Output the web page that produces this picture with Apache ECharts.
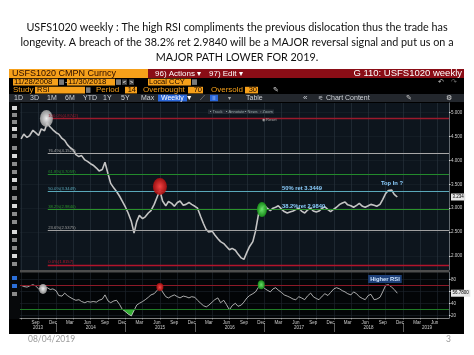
<!DOCTYPE html>
<html><head><meta charset="utf-8">
<script src="https://cdn.jsdelivr.net/npm/echarts/dist/echarts.min.js"></script>
<style>html,body{margin:0;padding:0;background:#fff}#c{width:474px;height:355px}</style>
</head><body><div id="c"></div><script>
// ---------- data ----------
const titleLines = [
  'USFS1020 weekly : The high RSI compliments the previous dislocation thus the trade has',
  'longevity. A breach of the 38.2% ret 2.9840 will be a MAJOR reversal signal and put us on a',
  'MAJOR PATH LOWER FOR 2019.'
];
// semi-monthly samples, 2013-07-01 .. 2018-12-01
const priceClose = [4.45,4.55,4.48,4.52,4.63,4.58,4.52,4.66,4.62,4.78,
  4.70,4.64,4.58,4.55,4.46,4.42,4.33,4.27,4.22,4.12,
  4.08,4.10,4.01,3.98,3.93,3.90,3.84,3.78,3.81,3.96,
  3.72,3.52,3.42,3.35,3.25,3.15,3.02,2.90,2.72,2.48,
  2.72,2.85,2.78,2.82,2.90,2.95,3.08,3.22,3.38,3.15,
  3.05,3.14,3.10,3.04,3.12,3.15,3.06,3.08,3.12,3.08,
  3.04,3.00,2.82,2.68,2.55,2.50,2.52,2.44,2.36,2.30,
  2.26,2.20,2.13,2.16,2.12,2.04,1.96,1.93,2.08,2.20,
  2.30,2.52,2.88,2.98,3.06,3.00,2.95,3.00,3.02,3.05,
  2.98,2.93,2.90,2.92,2.94,2.97,3.00,2.94,2.90,2.96,
  3.00,2.94,2.92,2.94,3.00,3.03,2.97,2.93,2.98,3.02,
  3.08,3.11,3.13,3.07,3.05,3.02,3.06,3.10,3.04,3.02,
  3.05,3.08,3.06,3.04,3.08,3.18,3.31,3.37,3.38,3.29,
  3.234];
const rsiValues = [70,68,67,69,71,69,64,66,65,66,
  63,64,61,53,52,57,53,50,47,45,
  46,43,41,43,42,43,42,45,47,54,
  44,41,44,45,38,30,26,22,19,28,
  37,40,43,46,50,54,56,61,67,59,
  51,49,52,54,51,49,52,51,49,51,
  50,45,40,36,34,37,42,46,49,41,
  45,38,29,36,40,35,37,42,49,53,
  56,59,67,70,65,62,59,64,66,62,
  58,54,52,50,47,46,51,49,46,52,
  57,51,48,46,52,56,53,58,64,66,
  64,61,59,56,54,59,56,51,48,46,
  53,55,46,47,50,59,70,71,67,63,
  56.78];
const fibPct = ['100.0%','76.4%','61.8%','50.0%','38.2%','23.6%','0.0%'];
const fibLevels = [4.8742,4.1524,3.7059,3.3449,2.9840,2.5375,1.8157];
const fibStartDate = '2013-11-18';
const priceTicks = [2.0,2.5,3.0,3.5,4.0,4.5,5.0];
const rsiGridTicks = [20,40,60,80];
const rsiLabelTicks = [20,40,80];
const rsiLevels = [70,30];
const axisStart = '2013-06-25', axisEnd = '2019-08-30';
const monthLabelDates = ['2013-09-15','2013-12-15','2014-03-15','2014-06-15','2014-09-15','2014-12-15',
  '2015-03-15','2015-06-15','2015-09-15','2015-12-15','2016-03-15','2016-06-15','2016-09-15','2016-12-15',
  '2017-03-15','2017-06-15','2017-09-15','2017-12-15','2018-03-15','2018-06-15','2018-09-15','2018-12-15',
  '2019-03-15','2019-06-15'];
const monthNames = ['Jan','Feb','Mar','Apr','May','Jun','Jul','Aug','Sep','Oct','Nov','Dec'];
const gridDates = ['2013-07-01','2013-10-01','2014-01-01','2014-04-01','2014-07-01','2014-10-01',
  '2015-01-01','2015-04-01','2015-07-01','2015-10-01','2016-01-01','2016-04-01','2016-07-01','2016-10-01',
  '2017-01-01','2017-04-01','2017-07-01','2017-10-01','2018-01-01','2018-04-01','2018-07-01','2018-10-01',
  '2019-01-01','2019-04-01','2019-07-01'];
const yearLabels = ['2013','2014','2015','2016','2017','2018','2019'];
const yearLabelDates = ['2013-09-28','2014-07-02','2015-07-02','2016-07-02','2017-07-02','2018-07-02','2019-05-06'];
const yearStartDates = ['2014-01-01','2015-01-01','2016-01-01','2017-01-01','2018-01-01','2019-01-01'];
// annotations
const priceCircleDates = ['2013-11-11','2015-07-01','2016-12-19'];
const priceCircleValues = [4.877,3.454,2.973];
const rsiCircleDates = ['2013-10-24','2015-07-01','2016-12-15'];
const rsiCircleValues = [64,67,71];
const priceNoteTexts = ['50% ret 3.3449','38.2%ret 2.9840','Top In ?'];
const priceNoteDates = ['2017-07-18','2017-07-26','2018-11-03'];
const priceNoteValues = [3.423,3.046,3.527];
const rsiNoteTexts = ['Higher RSI'];
const rsiNoteDates = ['2018-09-27'];
const rsiNoteValues = [80.5];

// ---------- helpers ----------
const ts = s => { const p = s.split('-').map(Number); return new Date(p[0], p[1]-1, p[2]).getTime(); };
const dates = [];
for (let i = 0; i < priceClose.length; i++) {
  const m = 6 + Math.floor(i / 2);
  const y = 2013 + Math.floor(m / 12);
  dates.push(y + '-' + String(m % 12 + 1).padStart(2, '0') + '-' + (i % 2 === 0 ? '01' : '15'));
}
const lastPrice = priceClose[priceClose.length - 1];
const lastRsi = rsiValues[rsiValues.length - 1];
const fibColors = ['#9c1a2c','#a8a8a8','#238a2c','#5aa9ba','#2b922b','#a0a0a0','#b3142c'];
const circleStyles = [
  ['rgba(250,250,250,0.95)','rgba(165,165,165,0.85)'],
  ['rgba(255,70,70,0.95)','rgba(170,15,15,0.9)'],
  ['rgba(110,235,110,0.95)','rgba(25,150,25,0.9)']];
const circleSizesP = [[13,17],[14,17],[10,15]];
const circleSizesR = [[8,10],[7,8],[7,9]];
const radial = c => ({type:'radial', x:0.5, y:0.5, r:0.5, colorStops:[{offset:0,color:c[0]},{offset:1,color:c[1]}]});
const FONT = '"Liberation Sans", Arial, sans-serif';

const G = [];
function rect(x, y, w, h, fill, z) { G.push({type:'rect', silent:true, z: (z === undefined ? 100 : z), shape:{x, y, width:w, height:h}, style:{fill}}); }
function text(x, y, t, fill, size, align, weight, fam) {
  G.push({type:'text', silent:true, z:101, x, y, style:{text:t, fill, font:(weight||'normal') + ' ' + size + 'px ' + (fam || FONT),
    align:align||'left', textAlign:align||'left', verticalAlign:'middle', textVerticalAlign:'middle'}});
}
rect(9, 102, 455, 232, '#000', -10);
rect(9, 102, 11, 217, '#07090b', -9);
[106,113,120,127,134,146,154,162,170,178,186,196,204,212,220,230,238,246,254,262,276,284,292].forEach((yy, k) => {
  rect(12, yy, 5, 4, (k === 20 || k === 21) ? '#2c6fd8' : (k % 3 === 0 ? '#d8d8d8' : '#8a8a8a'), 50);
});
rect(9, 69, 139, 9, '#f6a01a'); text(12, 73.8, 'USFS1020 CMPN Curncy', '#2a0c00', 9);
rect(148, 69, 316, 9, '#8a0d16');
text(155, 73.8, '96) Actions ▾', '#fff', 8); text(209, 73.8, '97) Edit ▾', '#fff', 8);
text(462, 73.8, 'G 110: USFS1020 weekly', '#fff', 9.5, 'right');
rect(9, 78, 455, 16, '#000');
rect(13, 78.8, 45, 6.6, '#f6a01a'); text(14, 82.2, '11/28/2008', '#1a0800', 7.8);
rect(59, 79.3, 5, 5.6, '#7a7a7a'); text(65, 82, '-', '#ddd', 7);
rect(67, 78.8, 48, 6.6, '#f6a01a'); text(68, 82.2, '11/30/2018', '#1a0800', 7.8);
rect(116, 79.3, 5, 5.6, '#7a7a7a');
rect(122, 79.3, 5, 5.6, '#444'); text(124.5, 82, '<', '#fff', 6, 'center');
rect(129, 79.3, 5, 5.6, '#444'); text(131.5, 82, '>', '#fff', 6, 'center');
rect(148, 78.8, 43, 6.6, '#f6a01a'); text(149, 82.2, 'Local CCY', '#1a0800', 7.5);
rect(192, 79.3, 5, 5.6, '#7a7a7a');
text(438, 82, '↶', '#ccc', 7); text(451, 82, '↷', '#777', 7);
text(13, 90, 'Study', '#f6a01a', 8);
rect(35, 86.8, 50, 6.6, '#f6a01a'); text(37, 90.2, 'RSI', '#1a0800', 7.5);
rect(86, 87.3, 4.5, 5.6, '#7a7a7a');
text(96, 90, 'Period', '#f6a01a', 8);
rect(125, 86.8, 12, 6.6, '#f6a01a'); text(136, 90.2, '14', '#1a0800', 7.5, 'right');
text(143, 90, 'Overbought', '#f6a01a', 8);
rect(188, 86.8, 15, 6.6, '#f6a01a'); text(202, 90.2, '70', '#1a0800', 7.5, 'right');
text(211, 90, 'Oversold', '#f6a01a', 8);
rect(245, 86.8, 13, 6.6, '#f6a01a'); text(257, 90.2, '30', '#1a0800', 7.5, 'right');
text(273, 90, '✎', '#ddd', 7);
rect(9, 94, 455, 8, '#23272d');
[['1D',14],['3D',30],['1M',47],['6M',65],['YTD',83],['1Y',103],['5Y',121],['Max',141]].forEach(a => text(a[1], 98, a[0], '#cfd3d8', 7));
rect(158, 94.6, 29, 6.8, '#2a66d9'); text(161, 98, 'Weekly ▼', '#fff', 7);
text(200, 98, '⟋', '#aaa', 7);
rect(210, 94.8, 8, 6.4, '#2a66d9'); text(214, 98, '⁞⁞', '#fff', 6, 'center');
text(228, 98, '▾', '#aaa', 6);
text(246, 98, 'Table', '#cfd3d8', 7);
text(303, 98, '«', '#cfd3d8', 8);
text(318, 98, '⚟', '#cfd3d8', 6);
text(326, 98, 'Chart Content', '#cfd3d8', 7);
text(406, 98, '✎', '#ccc', 7);
text(446, 98, '⚙', '#ddd', 7);
rect(208, 109.6, 66, 4.4, 'rgba(38,44,54,0.95)', 60);
text(210, 111.8, '▪ Track', '#9aa', 4); text(226, 111.8, '▪ Annotate', '#9aa', 4);
text(245, 111.8, '▪ News', '#9aa', 4); text(260, 111.8, '▫ Zoom', '#9aa', 4);
text(262, 120, '◉ Reset', '#aaa', 4);
rect(20, 270, 429, 2.5, '#4d4d4d', 5);
text(28, 339, '08/04/2019', '#9a9a9a', 8.5, 'left', 'normal', 'Lato, sans-serif');
text(446, 339, '3', '#9a9a9a', 8.5, 'left', 'normal', 'Lato, sans-serif');

const priceData = dates.map((d, i) => [ts(d), priceClose[i]]);
const rsiData = dates.map((d, i) => [ts(d), rsiValues[i]]);
const oversoldData = dates.map((d, i) => {
  const v = rsiValues[i];
  const near = v < 30 || (rsiValues[i-1] !== undefined && rsiValues[i-1] < 30) || (rsiValues[i+1] !== undefined && rsiValues[i+1] < 30);
  return [ts(d), near ? Math.min(v, 30) : null];
});
const nearestIdx = (arr, v) => { let b = 0, bd = Infinity; arr.forEach((a, k) => { const dd = Math.abs(a - v); if (dd < bd) { bd = dd; b = k; } }); return b; };
const yearLabelTs = yearLabelDates.map(ts);
const xMin = ts(axisStart), xMax = ts(axisEnd);

const option = {
  animation: false,
  backgroundColor: '#fff',
  title: {
    text: titleLines.join('\n'), left: 'center', top: 20.5, padding: 0,
    textStyle: {fontFamily: 'Lato, sans-serif', fontSize: 10.8, fontWeight: 'normal', color: '#111', lineHeight: 15}
  },
  graphic: G,
  grid: [
    {left: 20, right: 25, top: 103, height: 167, show: true, backgroundColor: '#0d151d', borderWidth: 0},
    {left: 20, right: 25, top: 272, height: 46, show: true, backgroundColor: '#030507', borderWidth: 0}
  ],
  xAxis: [
    {gridIndex: 0, type: 'value', min: xMin, max: xMax, axisLine: {show: false},
     axisTick: {show: false, customValues: gridDates.map(ts)}, axisLabel: {show: false, customValues: gridDates.map(ts)},
     splitLine: {show: true, lineStyle: {color: '#26313b', width: 0.7}}},
    {gridIndex: 1, type: 'value', min: xMin, max: xMax,
     axisLine: {show: true, onZero: false, lineStyle: {color: '#b8b8b8', width: 0.7}},
     axisTick: {show: true, customValues: gridDates.map(ts), length: 1.5, lineStyle: {color: '#b8b8b8', width: 0.6}},
     axisLabel: {show: true, customValues: monthLabelDates.map(ts), formatter: v => monthNames[new Date(v).getMonth()],
       fontSize: 4.5, color: '#cfcfcf', margin: 1.8, fontFamily: FONT},
     splitLine: {show: true, lineStyle: {color: '#1c232a', width: 0.7}}},
    {gridIndex: 1, type: 'value', min: xMin, max: xMax, position: 'bottom', offset: 5,
     axisLine: {show: false, onZero: false},
     axisTick: {show: true, customValues: yearStartDates.map(ts), length: 9, lineStyle: {color: '#9a9a9a', width: 0.6}},
     axisLabel: {show: true, customValues: yearLabelTs, formatter: v => yearLabels[nearestIdx(yearLabelTs, v)],
       fontSize: 4.5, color: '#cfcfcf', margin: 2.5, fontFamily: FONT},
     splitLine: {show: false}}
  ],
  yAxis: [
    {gridIndex: 0, type: 'value', position: 'right', min: 1.7071, max: 5.2008,
     axisLine: {show: true, onZero: false, lineStyle: {color: '#8d979f', width: 0.7}},
     axisTick: {show: true, customValues: priceTicks, length: 1.5, lineStyle: {color: '#ddd'}},
     axisLabel: {show: true, customValues: priceTicks.concat([lastPrice]), margin: 2, fontSize: 4.5, color: '#cfcfcf', fontFamily: FONT,
       formatter: v => Math.abs(v - lastPrice) < 1e-9 ? '{cur|' + v.toFixed(3) + '}' : v.toFixed(3),
       rich: {cur: {backgroundColor: '#e6e6e6', color: '#000', fontSize: 4.5, padding: [1, 1.5], fontFamily: FONT}}},
     splitLine: {show: true, lineStyle: {color: '#18212a', width: 0.7}}},
    {gridIndex: 1, type: 'value', position: 'right', min: 15.5, max: 92.17,
     axisLine: {show: true, onZero: false, lineStyle: {color: '#8d979f', width: 0.7}},
     axisTick: {show: true, customValues: rsiGridTicks, length: 1.5, lineStyle: {color: '#ddd'}},
     axisLabel: {show: true, customValues: rsiLabelTicks.concat([lastRsi]), margin: 2, fontSize: 4.5, color: '#cfcfcf', fontFamily: FONT,
       formatter: v => Math.abs(v - lastRsi) < 1e-9 ? '{cur|' + v.toFixed(4) + '}' : String(v),
       rich: {cur: {backgroundColor: '#e6e6e6', color: '#000', fontSize: 4.5, padding: [1, 1.5], fontFamily: FONT}}},
     splitLine: {show: true, lineStyle: {color: '#1a2026', width: 0.7}}}
  ],
  series: [
    {type: 'line', name: 'USFS1020', xAxisIndex: 0, yAxisIndex: 0, data: priceData, showSymbol: false, z: 4,
     lineStyle: {color: '#c4c4c4', width: 1.6}, itemStyle: {color: '#c4c4c4'},
     markLine: {silent: true, symbol: ['none', 'none'], animation: false,
       data: fibLevels.map((lv, k) => [
         {coord: [ts(fibStartDate), lv], lineStyle: {color: fibColors[k], width: (k === 0 || k === 6) ? 1.4 : 1, type: 'solid'},
          label: {show: true, position: 'insideStartTop', distance: 0.5, formatter: fibPct[k] + '(' + lv.toFixed(4) + ')',
                  color: fibColors[k], fontSize: 4.2, fontFamily: FONT}},
         {coord: [xMax, lv]}])},
     markPoint: {silent: true, animation: false,
       data: priceCircleDates.map((d, k) => ({coord: [ts(d), priceCircleValues[k]], symbol: 'circle', symbolSize: circleSizesP[k],
         itemStyle: {color: radial(circleStyles[k])}, label: {show: false}}))
         .concat(priceNoteTexts.map((t, k) => ({coord: [ts(priceNoteDates[k]), priceNoteValues[k]], symbol: 'circle', symbolSize: 0,
         itemStyle: {color: 'transparent'},
         label: {show: true, position: 'inside', formatter: t, color: '#8ccfff', fontSize: 5.8, fontWeight: 'bold', fontFamily: FONT}})))}
    },
    {type: 'line', name: 'RSI', xAxisIndex: 1, yAxisIndex: 1, data: rsiData, showSymbol: false, z: 4,
     lineStyle: {color: '#d6d6d6', width: 0.8}, itemStyle: {color: '#d6d6d6'},
     markLine: {silent: true, symbol: ['none', 'none'], animation: false, label: {show: false},
       data: rsiLevels.map((lv, k) => ({yAxis: lv, lineStyle: {color: k === 0 ? '#8c1a28' : '#1f7a24', width: 1, type: 'solid'}}))},
     markPoint: {silent: true, animation: false,
       data: rsiCircleDates.map((d, k) => ({coord: [ts(d), rsiCircleValues[k]], symbol: 'circle', symbolSize: circleSizesR[k],
         itemStyle: {color: radial(circleStyles[k])}, label: {show: false}}))
         .concat(rsiNoteTexts.map((t, k) => ({coord: [ts(rsiNoteDates[k]), rsiNoteValues[k]], symbol: 'circle', symbolSize: 0,
         itemStyle: {color: 'transparent'},
         label: {show: true, position: 'inside', formatter: t, color: '#cfe6ff', fontSize: 5.8, fontWeight: 'bold', fontFamily: FONT,
                 backgroundColor: '#1d3f78', padding: [1, 2]}})))}
    },
    {type: 'line', name: 'Oversold', xAxisIndex: 1, yAxisIndex: 1, data: oversoldData, showSymbol: false, z: 3,
     connectNulls: false, lineStyle: {width: 0, color: '#2fae2f'}, itemStyle: {color: '#2fae2f'},
     areaStyle: {color: '#35b335', opacity: 0.95, origin: 30}}
  ]
};
const chart = echarts.init(document.getElementById('c'), null, {renderer: 'canvas'});
chart.setOption(option);
</script></body></html>
